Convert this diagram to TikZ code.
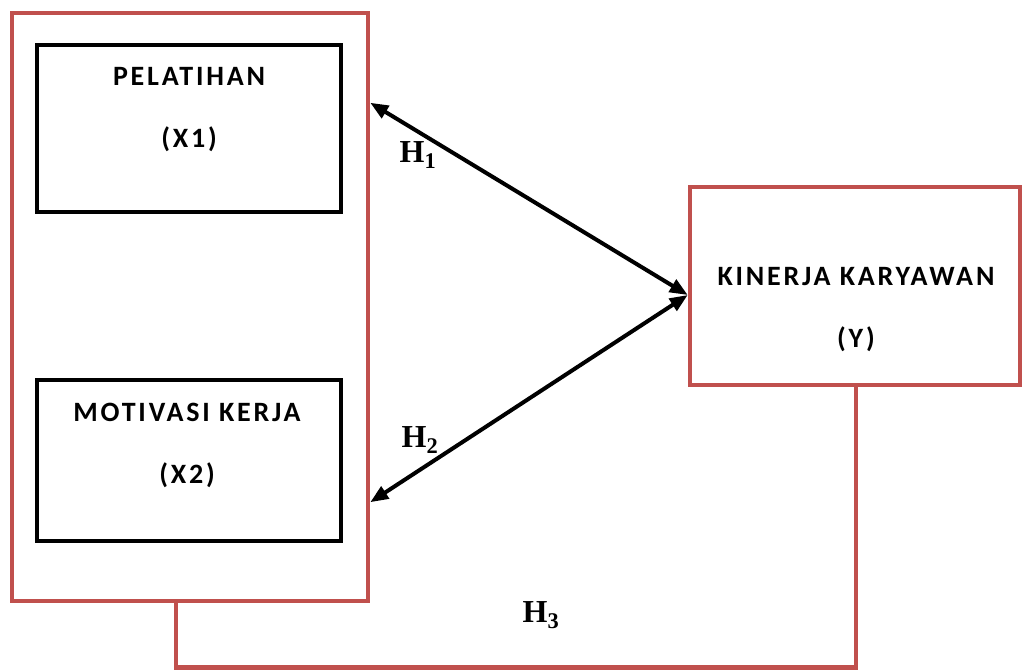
\documentclass[tikz,border=0pt]{standalone}
\usepackage{fontspec}
\newfontfamily\boxfont[LetterSpace=10]{Carlito}
\newfontfamily\hfont{Liberation Serif}
\usetikzlibrary{arrows.meta}
\definecolor{boxred}{HTML}{C0504D}

\begin{document}
\begin{tikzpicture}[x=1pt,y=-1pt,>={Triangle[length=18pt,width=14pt]},
  redbox/.style={draw=boxred,line width=4.5pt,inner sep=0pt},
  varbox/.style={draw=black,line width=4.5pt,inner sep=0pt,minimum width=304pt},
  boxtext/.style={font=\boxfont\bfseries\fontsize{28}{62}\selectfont,align=center},
  hlabel/.style={font=\hfont\bfseries\fontsize{32}{32}\selectfont}]
\useasboundingbox (0,0) rectangle (1022,669);
\node[redbox,minimum width=356pt,minimum height=588pt] (outer) at (190,307) {};
\node[varbox,minimum height=167pt] (x1) at (189,128.5) {};
\node[varbox,minimum height=161pt] (x2) at (189,460.5) {};
\node[redbox,minimum width=330pt,minimum height=198pt] (y) at (855,286) {};
\node[boxtext] (x1text) at (189,110) {PELATIHAN\\(X1)};
\node[boxtext] (x2text) at (187,445) {MOTIVASI KERJA\\(X2)};
\node[boxtext] (ytext) at (856,310) {KINERJA KARYAWAN\\(Y)};
\draw[<->,line width=4pt] ([yshift=-92pt]outer.north east) -- ([yshift=-9pt]y.west);
\draw[<->,line width=4pt] ([yshift=101pt]outer.south east) -- ([yshift=-9pt]y.west);
\draw[boxred,line width=4.5pt] ([xshift=-14pt]outer.south) -- ++(0,64) -| ([xshift=1pt]y.south);
\node[hlabel] (h1) at (418,155) {H\textsubscript{1}};
\node[hlabel] (h2) at (420,440) {H\textsubscript{2}};
\node[hlabel] (h3) at (541,615) {H\textsubscript{3}};
\end{tikzpicture}
\end{document}
